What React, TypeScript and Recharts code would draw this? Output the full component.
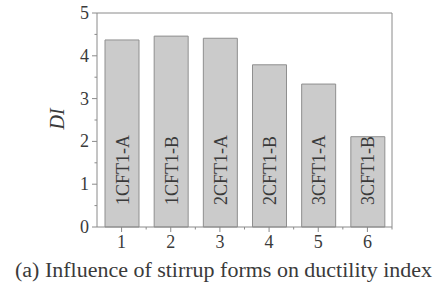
import React from 'react';
import { BarChart, Bar, XAxis, YAxis, ReferenceLine, LabelList, Label } from 'recharts';

const positions = [1, 2, 3, 4, 5, 6];
const specimens = ['1CFT1-A', '1CFT1-B', '2CFT1-A', '2CFT1-B', '3CFT1-A', '3CFT1-B'];
const ductility = [4.37, 4.46, 4.41, 3.79, 3.34, 2.11];

const xTicks = [1, 1.5, 2, 2.5, 3, 3.5, 4, 4.5, 5, 5.5, 6, 6.5];
const yTicks = [0, 0.5, 1, 1.5, 2, 2.5, 3, 3.5, 4, 4.5, 5];

const data = positions.map((x, i) => ({ x, di: ductility[i], name: specimens[i] }));

const AXIS = '#8a8a8a';
const TEXT = '#3a3a3a';
const FONT = '"Liberation Serif", "Times New Roman", serif';

const XTick = (props: any) => {
  const { x, y, payload } = props;
  const major = Number.isInteger(payload.value);
  return (
    <g>
      <line x1={x} y1={y} x2={x} y2={y + (major ? 5 : 2.5)} stroke={AXIS} strokeWidth={1} />
      {major && (
        <text x={x} y={y + 21} textAnchor="middle" fontSize={18} fill={TEXT} fontFamily={FONT}>
          {payload.value}
        </text>
      )}
    </g>
  );
};

const YTick = (props: any) => {
  const { x, y, payload } = props;
  const major = Number.isInteger(payload.value);
  return (
    <g>
      <line x1={x} y1={y} x2={x - (major ? 5 : 2.5)} y2={y} stroke={AXIS} strokeWidth={1} />
      {major && (
        <text x={x - 8} y={y + 6} textAnchor="end" fontSize={18} fill={TEXT} fontFamily={FONT}>
          {payload.value}
        </text>
      )}
    </g>
  );
};

const BarName = (props: any) => {
  const { x, y, width, height, value } = props;
  const cx = x + width / 2;
  const by = y + height - 22;
  return (
    <text
      x={cx}
      y={by}
      transform={`rotate(-90 ${cx} ${by})`}
      dy={6.5}
      textAnchor="start"
      fontSize={18}
      fill={TEXT}
      fontFamily={FONT}
    >
      {value}
    </text>
  );
};

export default function App() {
  return (
    <div style={{ position: 'absolute', left: 0, top: 0, background: '#fff' }}>
      <BarChart
        width={433}
        height={287}
        data={data}
        margin={{ top: 13, right: 41, bottom: 0, left: 37 }}
      >
        <XAxis
          dataKey="x"
          type="number"
          domain={[0.5, 6.5]}
          ticks={xTicks}
          interval={0}
          height={60}
          tickSize={0}
          tickMargin={0}
          tickLine={false}
          stroke={AXIS}
          tick={<XTick />}
        >
          <Label
            content={() => (
              <text
                x={15}
                y={277}
                textAnchor="start"
                fontSize={20}
                textLength={417}
                lengthAdjust="spacingAndGlyphs"
                fill={TEXT}
                fontFamily={FONT}
              >
                (a) Influence of stirrup forms on ductility index
              </text>
            )}
          />
        </XAxis>
        <YAxis
          type="number"
          domain={[0, 5]}
          ticks={yTicks}
          interval={0}
          width={60}
          tickSize={0}
          tickMargin={0}
          tickLine={false}
          stroke={AXIS}
          tick={<YTick />}
        >
          <Label
            content={() => (
              <text
                x={64}
                y={119}
                transform="rotate(-90 64 119)"
                textAnchor="middle"
                fontSize={20}
                fontStyle="italic"
                fill={TEXT}
                fontFamily={FONT}
              >
                DI
              </text>
            )}
          />
        </YAxis>
        <ReferenceLine y={5} stroke={AXIS} strokeWidth={1} />
        <ReferenceLine x={6.5} stroke={AXIS} strokeWidth={1} />
        <Bar dataKey="di" barSize={34} fill="#cbcbcb" stroke="#8f8f8f" strokeWidth={1} isAnimationActive={false}>
          <LabelList dataKey="name" content={<BarName />} />
        </Bar>
      </BarChart>
    </div>
  );
}
